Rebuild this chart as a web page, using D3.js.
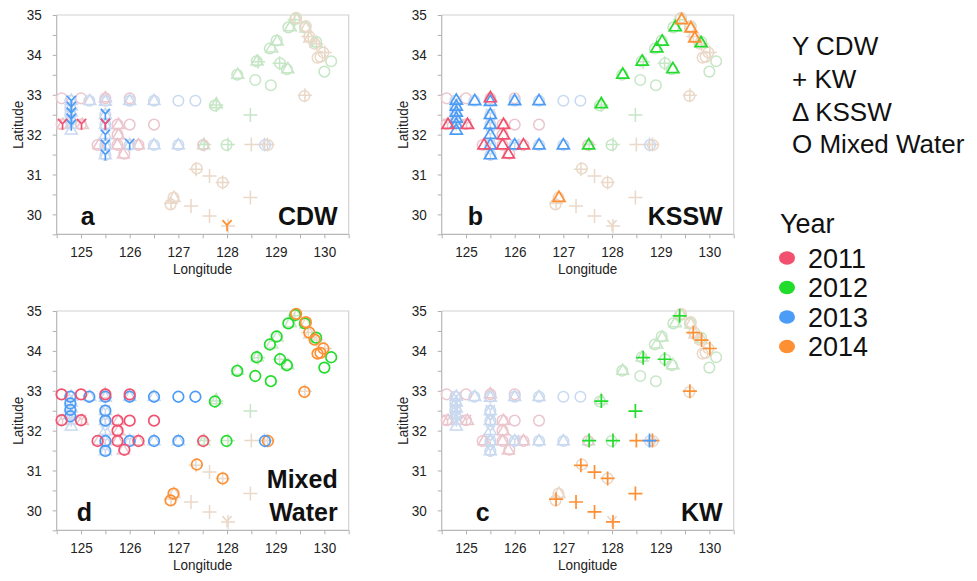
<!DOCTYPE html>
<meta charset="utf-8">
<style>
  body { margin: 0; background: #fff; }
  svg { display: block; font-family: "Liberation Sans", Arial, sans-serif; }
  .tick line { stroke: #b0b0b0; }
  .domain { display: none; }
  .tick text { fill: #222; font-size: 15px; }
</style>
<body>
<svg width="977" height="581"></svg>
<script src="https://d3js.org/d3.v7.min.js"></script>
<script>
const years = [2011, 2012, 2013, 2014];
const yearColors = ["#f2506e", "#22dc2c", "#4b9cf6", "#ff8f33"];
const fadedColors = ["#ebc6cd", "#c6e6c6", "#c9d9ef", "#ead8c8"];
const drawOrder = [2012, 2014, 2013, 2011];

const lonTicks = [125, 126, 127, 128, 129, 130];
const latTicks = [30, 31, 32, 33, 34, 35];

// each station sample: [longitude, latitude, year]
const cdw = [
  [124.62, 32.27, 2011], [125.01, 32.27, 2011], [125.5, 32.27, 2011],
  [124.8, 32.85, 2013], [124.8, 32.7, 2013], [124.8, 32.55, 2013], [124.8, 32.4, 2013], [124.8, 32.25, 2013],
  [125.5, 32.52, 2013], [125.5, 32.27, 2013], [125.5, 32.0, 2013], [125.5, 31.75, 2013], [125.5, 31.5, 2013],
  [126.0, 31.77, 2013],
  [128.0, 29.73, 2014]
];

const kssw = [
  [124.63, 32.25, 2011], [125.03, 32.25, 2011], [125.5, 32.92, 2011], [125.77, 32.25, 2011],
  [125.77, 31.99, 2011], [125.37, 31.74, 2011], [125.75, 31.74, 2011], [125.87, 31.51, 2011], [126.18, 31.74, 2011],
  [127.78, 32.77, 2012], [127.52, 31.74, 2012], [128.22, 33.51, 2012], [128.62, 33.84, 2012], [128.92, 34.17, 2012],
  [129.03, 34.34, 2012], [129.25, 33.65, 2012], [129.3, 34.7, 2012], [129.83, 34.3, 2012],
  [124.8, 32.86, 2013], [124.8, 32.71, 2013], [124.8, 32.56, 2013], [124.8, 32.41, 2013], [124.8, 32.26, 2013],
  [124.8, 32.11, 2013], [125.18, 32.85, 2013], [125.5, 32.83, 2013], [126.0, 32.85, 2013], [126.5, 32.85, 2013],
  [125.5, 32.5, 2013], [125.5, 32.25, 2013], [125.5, 32.0, 2013], [125.5, 31.74, 2013], [125.5, 31.49, 2013],
  [126.0, 31.74, 2013], [126.5, 31.74, 2013], [127.0, 31.74, 2013],
  [126.91, 30.42, 2014], [129.43, 34.88, 2014], [129.62, 34.67, 2014], [129.7, 34.42, 2014]
];

const mixed = [
  [124.6, 32.91, 2011], [125.0, 32.91, 2011], [125.5, 32.91, 2011], [126.0, 32.91, 2011],
  [124.6, 32.26, 2011], [125.0, 32.26, 2011], [125.75, 32.25, 2011], [126.0, 32.25, 2011], [126.5, 32.25, 2011],
  [125.75, 32.0, 2011], [125.34, 31.74, 2011], [125.75, 31.74, 2011], [126.18, 31.74, 2011], [127.51, 31.74, 2011],
  [125.89, 31.52, 2011],
  [127.75, 32.73, 2012], [127.99, 31.74, 2012], [128.21, 33.5, 2012], [128.61, 33.84, 2012], [128.58, 33.37, 2012],
  [128.9, 33.24, 2012], [128.88, 34.16, 2012], [129.02, 34.36, 2012], [129.09, 33.79, 2012], [129.23, 33.64, 2012],
  [129.26, 34.69, 2012], [129.4, 34.9, 2012], [129.6, 34.69, 2012], [129.83, 34.33, 2012], [130.14, 33.84, 2012],
  [130.0, 33.58, 2012],
  [125.17, 32.85, 2013], [125.5, 32.85, 2013], [126.0, 32.85, 2013], [126.5, 32.85, 2013], [127.0, 32.85, 2013],
  [127.35, 32.85, 2013], [124.78, 32.85, 2013], [124.78, 32.68, 2013], [124.78, 32.52, 2013], [124.78, 32.36, 2013],
  [125.5, 32.5, 2013], [125.5, 32.25, 2013], [125.5, 31.74, 2013], [126.0, 31.74, 2013], [126.5, 31.74, 2013],
  [127.0, 31.74, 2013], [125.5, 31.49, 2013], [128.78, 31.74, 2013],
  [129.42, 34.93, 2014], [129.62, 34.72, 2014], [129.69, 34.46, 2014], [129.8, 34.28, 2014], [129.98, 34.06, 2014],
  [129.86, 33.93, 2014], [129.92, 33.95, 2014], [129.59, 32.97, 2014], [127.38, 31.15, 2014], [127.91, 30.8, 2014],
  [126.9, 30.42, 2014], [126.84, 30.25, 2014], [128.84, 31.74, 2014]
];

const kw = [
  [129.39, 34.88, 2012], [128.64, 33.83, 2012], [129.08, 33.79, 2012], [127.78, 32.74, 2012],
  [128.48, 32.49, 2012], [127.53, 31.75, 2012], [128.02, 31.75, 2012],
  [128.77, 31.75, 2013],
  [129.67, 34.46, 2014], [129.84, 34.27, 2014], [130.01, 34.06, 2014], [129.6, 32.99, 2014], [128.5, 31.75, 2014],
  [128.83, 31.75, 2014], [127.36, 31.13, 2014], [127.64, 30.96, 2014], [127.91, 30.8, 2014], [128.48, 30.42, 2014],
  [126.85, 30.28, 2014], [127.26, 30.21, 2014], [127.64, 29.96, 2014], [128.02, 29.71, 2014]
];

const massNames = ["CDW", "KW", "KSSW", "Mixed"];
const massData = [cdw, kw, kssw, mixed];
const legendLabels = ["Y CDW", "+ KW", "\u0394 KSSW", "O Mixed Water"];

const svg = d3.select("svg");
const W = 292, H = 219.3;

const color = d3.scaleOrdinal().domain(years).range(yearColors);
const faded = d3.scaleOrdinal().domain(years).range(fadedColors);

const markers = {
  CDW: "M-4.6,-5L0,0L4.6,-5M0,0V6",
  KW: "M-7,0H7M0,-7V7",
  KSSW: "M0,-6.4L6,3.8L-6,3.8Z"
};

const all = [];
massNames.forEach((m, i) => massData[i].forEach(d => all.push({ mass: m, lon: d[0], lat: d[1], year: d[2] })));

function condense(sel, k) {
  sel.each(function () {
    const w = this.getComputedTextLength();
    d3.select(this).attr("textLength", w * k).attr("lengthAdjust", "spacingAndGlyphs");
  });
}

function drawMarks(g, pts, x, y, colorOf, sw) {
  pts.forEach(d => {
    const cx = x(d.lon), cy = y(d.lat);
    if (d.mass === "Mixed") {
      g.append("circle").attr("cx", cx).attr("cy", cy).attr("r", 5.3)
        .attr("fill", "none").attr("stroke", colorOf(d.year)).attr("stroke-width", sw);
    } else {
      g.append("path").attr("d", markers[d.mass])
        .attr("transform", `translate(${cx},${cy})`)
        .attr("fill", "none").attr("stroke", colorOf(d.year)).attr("stroke-width", sw);
    }
  });
}

const panels = [
  { mass: "CDW", letter: "a", title: ["CDW"], ox: 56.7, oy: 15, lx: 24 },
  { mass: "KSSW", letter: "b", title: ["KSSW"], ox: 441.7, oy: 15, lx: 26 },
  { mass: "Mixed", letter: "d", title: ["Mixed", "Water"], ox: 56.7, oy: 311, lx: 20 },
  { mass: "KW", letter: "c", title: ["KW"], ox: 441.7, oy: 311, lx: 34 }
];

panels.forEach(p => {
  const g = svg.append("g").attr("transform", `translate(${p.ox},${p.oy})`);
  const x = d3.scaleLinear().domain([124.5, 130.5]).range([0, W]);
  const y = d3.scaleLinear().domain([29.5, 35]).range([H, 0]);

  g.append("path").attr("d", `M0,0H${W}V${H}`).attr("fill", "none").attr("stroke", "#d2d2d2").attr("stroke-width", 1.2);
  g.append("path").attr("d", `M0,0V${H}H${W}`).attr("fill", "none").attr("stroke", "#b8b8b8").attr("stroke-width", 1.2);

  const xAxis = g.append("g").attr("transform", `translate(0,${H})`)
    .call(d3.axisBottom(x).tickValues(d3.range(124.5, 130.51, 0.5)).tickSize(4).tickSizeOuter(0).tickPadding(8)
      .tickFormat(d => lonTicks.includes(d) ? d : ""));
  const yAxis = g.append("g")
    .call(d3.axisLeft(y).tickValues(d3.range(29.5, 35.01, 0.5)).tickSize(4).tickSizeOuter(0).tickPadding(11)
      .tickFormat(d => latTicks.includes(d) ? d : ""));
  condense(xAxis.selectAll("text").filter(function () { return this.textContent; }), 0.9);
  condense(yAxis.selectAll("text").filter(function () { return this.textContent; }), 0.9);

  const t1 = g.append("text").attr("x", W / 2).attr("y", H + 40).attr("text-anchor", "middle")
    .attr("font-size", 15).attr("fill", "#222").text("Longitude");
  condense(t1, 0.9);
  const t2 = g.append("text").attr("transform", `translate(-34,${H / 2}) rotate(-90)`).attr("text-anchor", "middle")
    .attr("font-size", 15).attr("fill", "#222").text("Latitude");
  condense(t2, 0.9);

  const others = all.filter(d => d.mass !== p.mass);
  drawMarks(g.append("g"), others, x, y, faded, 1.5);
  const mine = all.filter(d => d.mass === p.mass)
    .sort((a, b) => drawOrder.indexOf(a.year) - drawOrder.indexOf(b.year));
  drawMarks(g.append("g"), mine, x, y, color, 1.7);

  g.append("text").attr("x", p.lx).attr("y", 210).attr("font-size", 25).attr("font-weight", "bold")
    .attr("fill", "#111").text(p.letter);
  p.title.forEach((s, i) => {
    g.append("text").attr("x", 281).attr("y", 210 - (p.title.length - 1 - i) * 33)
      .attr("text-anchor", "end").attr("font-size", 25).attr("font-weight", "bold").attr("fill", "#111").text(s);
  });
});

// legends
svg.append("g").selectAll("text").data(legendLabels).join("text")
  .attr("x", 792).attr("y", (d, i) => 55 + i * 32.8)
  .attr("font-size", 26).attr("fill", "#111").text(d => d);

svg.append("text").attr("x", 780).attr("y", 233).attr("font-size", 27).attr("fill", "#111").text("Year");
const ly = d3.scalePoint().domain(years).range([258, 346.5]);
svg.append("g").selectAll("ellipse").data(years).join("ellipse")
  .attr("cx", 787).attr("cy", d => ly(d)).attr("rx", 8).attr("ry", 6.8).attr("fill", d => color(d));
svg.append("g").selectAll("text").data(years).join("text")
  .attr("x", 808).attr("y", d => ly(d) + 9.5).attr("font-size", 27).attr("fill", "#111").text(d => d);
</script>
</body>
